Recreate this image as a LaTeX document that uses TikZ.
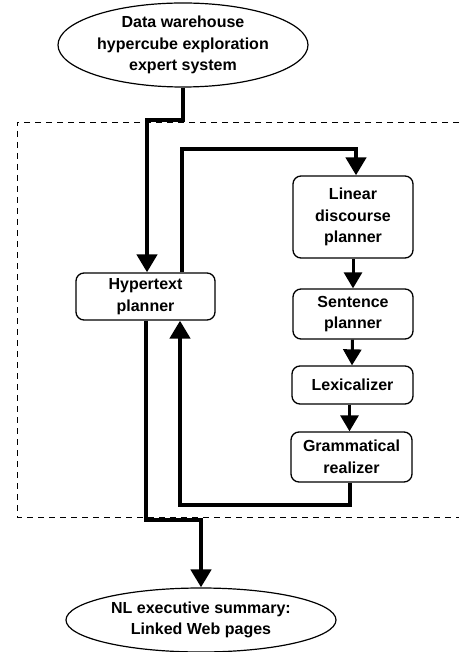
\documentclass[tikz,border=0pt]{standalone}
\usepackage{fontspec}
\setmainfont{Liberation Sans}
\usetikzlibrary{shapes.geometric,arrows.meta}
\tikzset{
  lbl/.style={font=\fontsize{16}{21.5}\selectfont\bfseries, align=center, inner sep=0pt},
  stagebox/.style={lbl, draw, line width=1.3pt, rounded corners=8pt, fill=white},
  endpoint/.style={lbl, draw, ellipse, line width=1.2pt, fill=white},
  flow/.style={line width=4.5pt, -{Triangle[length=18pt,width=20pt]}},
  shortflow/.style={line width=3pt, -{Triangle[length=16pt,width=18pt]}},
  region/.style={line width=0.8pt, dash pattern=on 6pt off 5pt},
}
\begin{document}
\begin{tikzpicture}[x=1pt,y=-1pt]
\useasboundingbox (0,0) rectangle (459,652);
\draw[region] (459,122) -- (17,122) -- (17,517) -- (459,517);

\node[endpoint, minimum width=250pt, minimum height=84pt] (top) at (183,45)
  {Data warehouse\\hypercube exploration\\expert system};
\node[endpoint, minimum width=270pt, minimum height=64pt] (bot) at (201,620)
  {NL executive summary:\\Linked Web pages};
\node[stagebox, minimum width=139pt, minimum height=47pt] (hp) at (145.5,296.5) {Hypertext\\planner};
\node[stagebox, minimum width=120pt, minimum height=82pt] (ldp) at (353,217) {Linear\\discourse\\planner};
\node[stagebox, minimum width=120pt, minimum height=50pt] (sp) at (353,314) {Sentence\\planner};
\node[stagebox, minimum width=121pt, minimum height=38pt] (lex) at (352.5,385) {Lexicalizer};
\node[stagebox, minimum width=121pt, minimum height=50pt] (gr) at (351.5,457) {Grammatical\\realizer};

\coordinate (j1) at (147,120);
\coordinate (j2) at (182,149);
\coordinate (j3) at (180,505);
\coordinate (j4) at (146,520);

\draw[flow] (top.south) |- (j1) -- ([xshift=1.5pt]hp.north);
\draw[flow] ([xshift=36.5pt]hp.north) -- (j2) -| ([xshift=3pt]ldp.north);
\draw[shortflow] (ldp.south) -- (sp.north);
\draw[shortflow] ([xshift=-0.5pt]sp.south) -- ([xshift=-0.5pt]lex.north);
\draw[shortflow] ([xshift=-3pt]lex.south) -- ([xshift=-2pt]gr.north);
\draw[flow] ([xshift=-1.5pt]gr.south) |- (j3) -- ([xshift=34.5pt]hp.south);
\draw[flow] ([xshift=0.5pt]hp.south) -- (j4) -| (bot.north);
\end{tikzpicture}
\end{document}
